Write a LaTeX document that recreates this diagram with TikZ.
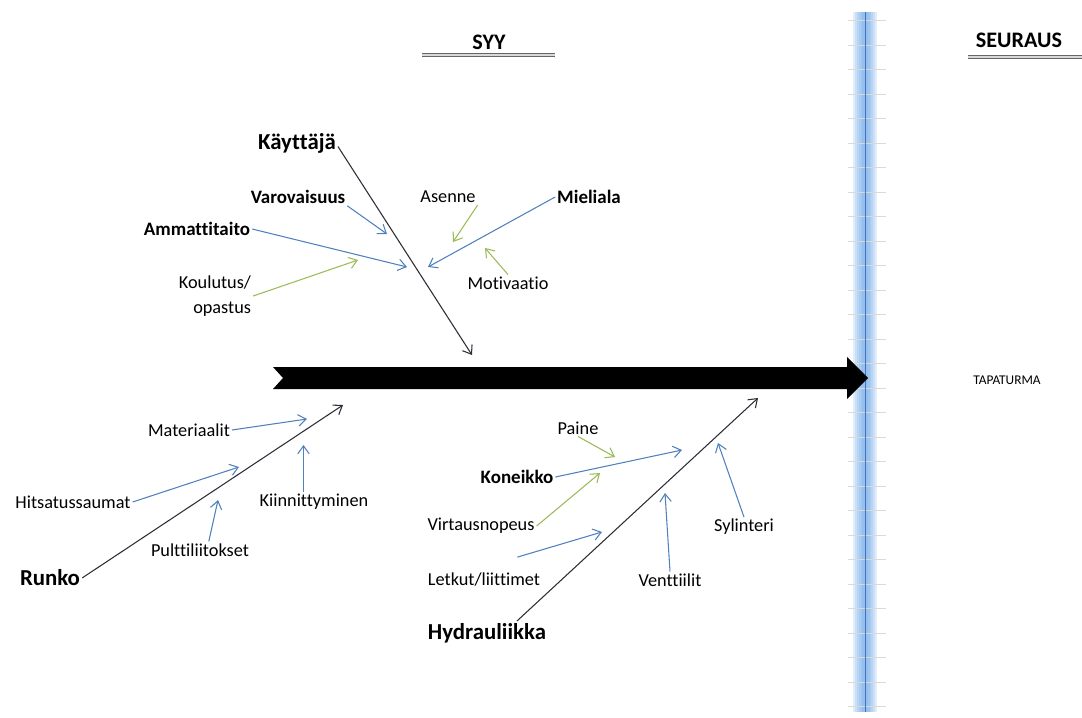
\documentclass[tikz,border=0pt]{standalone}
\usepackage{fontspec}
\setmainfont{Carlito}[Ligatures={NoCommon,NoContextual}]
\usetikzlibrary{arrows.meta}

\definecolor{arrblue}{RGB}{79,129,189}
\definecolor{arrgreen}{RGB}{155,187,89}
\definecolor{bonec}{RGB}{45,45,55}
\definecolor{glowblue}{RGB}{120,175,235}
\definecolor{axisblue}{RGB}{70,115,185}

\tikzset{
  lbl/.style={inner sep=1pt, font=\fontsize{10.4}{14.2}\selectfont},
  lblb/.style={inner sep=1pt, font=\fontsize{10.8}{13}\selectfont\bfseries},
  cat/.style={inner sep=1pt, font=\fontsize{13}{15}\selectfont\bfseries},
  hdr/.style={inner sep=1pt, font=\fontsize{12.6}{15}\selectfont\bfseries},
  bone/.style={draw=bonec, line width=0.6pt, -{Straight Barb[length=4.5pt,width=6.5pt]}},
  bluearr/.style={draw=arrblue, line width=0.6pt, -{Straight Barb[length=4.5pt,width=6.5pt]}},
  greenarr/.style={draw=arrgreen, line width=0.6pt, -{Straight Barb[length=4.5pt,width=6.5pt]}},
  underl/.style={draw=gray!80!black, double=gray!30, double distance=1pt, line width=0.55pt},
  glow/.style={draw=glowblue, opacity=0.22}
}

\begin{document}
\begin{tikzpicture}[x=0.02cm,y=-0.02cm]
  \path[fill=white,use as bounding box] (0,0) rectangle (1082,717);

  \foreach \w in {0.48,0.40,0.32,0.25,0.18,0.12}
    \draw[glow, line width=\w cm] (865,12) -- (865,712);
  \foreach \y in {20,45,69,94,118,143,167,192,216,241,265,290,314,339,363,
                  388,412,437,461,486,510,535,559,584,608,633,657,682,706}
    \draw[gray!30, line width=0.4pt] (848,\y) -- (886,\y);
  \draw[axisblue, line width=0.5pt] (865,12) -- (865,712);

  \fill[black] (273,367) -- (847,367) -- (847,357) -- (868,378) -- (847,399)
    -- (847,389) -- (273,389) -- (283,378) -- cycle;

  \node[hdr] (syy) at (489,42) {SYY};
  \draw[underl] (422,55) -- (555,55);
  \node[hdr] (seur) at (1019,40) {SEURAUS};
  \draw[underl] (968,57) -- (1082,57);
  \node[font=\fontsize{7.6}{9}\selectfont] (tap) at (1007,380) {TAPATURMA};

  \node[cat] (kay) at (297,143) {Käyttäjä};
  \node[lblb] (varo) at (298,197) {Varovaisuus};
  \node[lblb] (amm) at (197,229) {Ammattitaito};
  \node[lbl,align=right] (koul) at (215,296) {Koulutus/\\opastus};
  \node[lbl] (ase) at (448,197) {Asenne};
  \node[lblb] (mie) at (589,197) {Mieliala};
  \node[lbl] (mot) at (508,283) {Motivaatio};
  \coordinate (kaye) at (472,355);
  \coordinate (varoe) at (387,234);
  \coordinate (amme) at (407,267);
  \coordinate (koule) at (358,260);
  \coordinate (asee) at (453,242);
  \coordinate (miee) at (428,267);
  \coordinate (mote) at (485,248);
  \draw[bone] ([yshift=-2pt]kay.east) -- (kaye);
  \draw[bluearr] (varo.south east) -- (varoe);
  \draw[bluearr] (amm.east) -- (amme);
  \draw[greenarr] (koul.east) -- (koule);
  \draw[greenarr] (ase.south east) -- (asee);
  \draw[bluearr] (mie.west) -- (miee);
  \draw[greenarr] (mot.north) -- (mote);

  \node[cat] (run) at (50,578) {Runko};
  \node[lbl] (mat) at (189,430) {Materiaalit};
  \node[lbl] (hit) at (73,502) {Hitsatussaumat};
  \node[lbl] (kii) at (314,502) {Kiinnittyminen};
  \node[lbl] (pul) at (200,550) {Pulttiliitokset};
  \coordinate (rune) at (343,405);
  \coordinate (mate) at (307,419);
  \coordinate (hite) at (239,467);
  \coordinate (kiie) at (303.5,445);
  \coordinate (pule) at (218,500);
  \draw[bone] (run.east) -- (rune);
  \draw[bluearr] (mat.east) -- (mate);
  \draw[bluearr] (hit.east) -- (hite);
  \draw[bluearr] (kii.north -| kiie) -- (kiie);
  \draw[bluearr] ([xshift=5pt]pul.north) -- (pule);

  \node[cat] (hyd) at (487,633) {Hydrauliikka};
  \node[lbl] (pai) at (578,428) {Paine};
  \node[lblb] (kon) at (517,477) {Koneikko};
  \node[lbl] (vir) at (481,526) {Virtausnopeus};
  \node[lbl] (let) at (484,580) {Letkut/liittimet};
  \node[lbl] (ven) at (670,580) {Venttiilit};
  \node[lbl] (syl) at (744,527) {Sylinteri};
  \coordinate (hyde) at (758,398);
  \coordinate (paie) at (615,457);
  \coordinate (kone) at (682,450);
  \coordinate (vire) at (600,473);
  \coordinate (lete) at (602,532);
  \coordinate (vene) at (665,493);
  \coordinate (syle) at (718,443);
  \draw[bone] ([xshift=17pt]hyd.north) -- (hyde);
  \draw[greenarr] (pai.south) -- (paie);
  \draw[bluearr] (kon.east) -- (kone);
  \draw[greenarr] (vir.east) -- (vire);
  \draw[bluearr] ([xshift=19pt,yshift=8pt]let.north) -- (lete);
  \draw[bluearr] (ven.north) -- (vene);
  \draw[bluearr] (syl.north) -- (syle);
\end{tikzpicture}
\end{document}
